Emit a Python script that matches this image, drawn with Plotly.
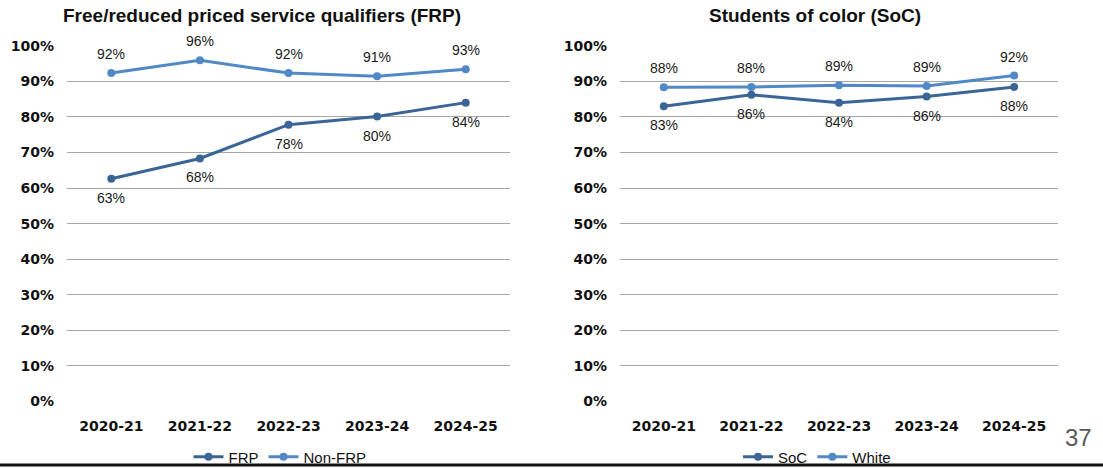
import plotly.graph_objects as go

# School years on the category axis
years = ["2020-21", "2021-22", "2022-23", "2023-24", "2024-25"]

# Free/reduced priced service qualifiers panel (percent)
frp = [62.6, 68.3, 77.8, 80.1, 84.0]
non_frp = [92.3, 95.9, 92.3, 91.4, 93.4]

# Students of color panel (percent)
soc = [83.0, 86.2, 84.0, 85.7, 88.4]
white = [88.3, 88.4, 88.9, 88.7, 91.6]

y_ticks = list(range(0, 101, 10))
y_tick_text = [f"{v}%" for v in y_ticks]

DARK = "#3B6596"
LIGHT = "#5089C6"
GRID = "#A6A6A6"

W, H = 1103, 469

fig = go.Figure()

panels = [
    ("x", "y", "legend", [("FRP", frp, DARK, "below"), ("Non-FRP", non_frp, LIGHT, "above")]),
    ("x2", "y2", "legend2", [("SoC", soc, DARK, "below"), ("White", white, LIGHT, "above")]),
]

annotations = []
for xa, ya, lg, series in panels:
    for name, vals, color, side in series:
        fig.add_trace(go.Scatter(
            x=years, y=vals, name=name, mode="lines+markers",
            xaxis=xa, yaxis=ya, legend=lg,
            line=dict(color=color, width=3),
            marker=dict(color=color, size=8),
            hoverinfo="skip",
        ))
        for yr, v in zip(years, vals):
            annotations.append(dict(
                x=yr, y=v, xref=xa, yref=ya, text=f"{round(v)}%",
                showarrow=False, yshift=19 if side == "above" else -19,
                xanchor="center", yanchor="middle",
                font=dict(family="Liberation Sans, Arial", size=14, color="#1a1a1a"),
            ))

title_font = dict(family="Liberation Sans, Arial", size=19, color="#111111")

# Panel titles
annotations.append(dict(
    x=262 / W, y=1 - 15 / H, xref="paper", yref="paper",
    xanchor="center", yanchor="middle",
    text="<b>Free/reduced priced service qualifiers (FRP)</b>", showarrow=False,
    font=title_font,
))
annotations.append(dict(
    x=815 / W, y=1 - 15 / H, xref="paper", yref="paper",
    xanchor="center", yanchor="middle",
    text="<b>Students of color (SoC)</b>", showarrow=False,
    font=title_font,
))
# Page number
annotations.append(dict(
    x=1078 / W, y=1 - 437 / H, xref="paper", yref="paper",
    xanchor="center", yanchor="middle",
    text="37", showarrow=False,
    font=dict(family="Liberation Sans, Arial", size=24, color="#595959"),
))

y_dom = [1 - 401.5 / H, 1 - 45.7 / H]
axis_font = dict(family="DejaVu Sans", size=14, color="#111111", weight="bold")

yaxis_common = dict(
    range=[0, 100], tickvals=y_ticks, ticktext=y_tick_text,
    showgrid=True, gridcolor=GRID, gridwidth=1, zeroline=False,
    showline=False, ticks="", tickfont=axis_font, ticklabelstandoff=12,
    domain=y_dom, fixedrange=True, automargin=False,
)
xaxis_common = dict(
    type="category", showgrid=False, zeroline=False, showline=False,
    ticks="", tickfont=axis_font, ticklabelstandoff=14, fixedrange=True,
    range=[-0.5, 4.5], automargin=False,
)

legend_common = dict(
    orientation="h", yanchor="middle", y=1 - 457 / H, xanchor="center",
    font=dict(family="Liberation Sans, Arial", size=15, color="#111111"),
    bgcolor="rgba(0,0,0,0)", itemwidth=30, tracegroupgap=0,
)

fig.update_layout(
    width=W, height=H,
    margin=dict(l=0, r=0, t=0, b=0, autoexpand=False),
    paper_bgcolor="white", plot_bgcolor="white",
    xaxis=dict(domain=[67 / W, 510 / W], anchor="y", **xaxis_common),
    yaxis=dict(anchor="x", **yaxis_common),
    xaxis2=dict(domain=[620 / W, 1058 / W], anchor="y2", **xaxis_common),
    yaxis2=dict(anchor="x2", **yaxis_common),
    legend=dict(x=280 / W, **legend_common),
    legend2=dict(x=817 / W, **legend_common),
    annotations=annotations,
    shapes=[dict(
        type="line", xref="paper", yref="paper",
        x0=0, x1=1, y0=1 - 465 / H, y1=1 - 465 / H,
        line=dict(color="#111111", width=3),
    )],
)

fig.write_html("out.html")
